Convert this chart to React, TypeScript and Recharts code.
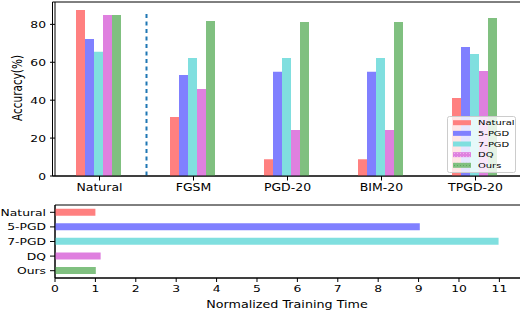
import React from 'react';
import { BarChart, Bar, XAxis, YAxis, ReferenceLine, ReferenceArea, Legend, Cell, Label } from 'recharts';

const categories = ['Natural', 'FGSM', 'PGD-20', 'BIM-20', 'TPGD-20'];
const naturalAcc = [87.6, 31.1, 8.8, 8.8, 41.2];
const pgd5Acc = [72.3, 53.3, 55.0, 55.0, 68.0];
const pgd7Acc = [65.6, 62.3, 62.3, 62.3, 64.4];
const dqAcc = [85.0, 45.9, 24.3, 24.3, 55.4];
const oursAcc = [85.0, 81.8, 81.3, 81.3, 83.4];
const accTicks = [0, 20, 40, 60, 80];

const methods = ['Natural', '5-PGD', '7-PGD', 'DQ', 'Ours'];
const trainTime = [1.0, 9.03, 10.98, 1.13, 1.01];
const timeTicks = [0, 1, 2, 3, 4, 5, 6, 7, 8, 9, 10, 11];

const COLORS = ['#ff8080', '#8080ff', '#80dfdf', '#df80df', '#80c080'];
const FONT = 'DejaVu Sans, sans-serif';
const SX = 1.3;
const ACC_MAX = 91.8;
const TIME_MAX = 11.56;

const accData = categories.map((c, i) => ({
  name: c,
  natural: naturalAcc[i],
  pgd5: pgd5Acc[i],
  pgd7: pgd7Acc[i],
  dq: dqAcc[i],
  ours: oursAcc[i],
}));
const accKeys = ['natural', 'pgd5', 'pgd7', 'dq', 'ours'];

const timeData = methods.map((m, i) => ({ name: m, time: trainTime[i] }));

const SText = ({ x, y, anchor, size, children, rotate }: any) => (
  <text
    transform={`translate(${x},${y}) scale(${SX},1)${rotate ? ' rotate(-90)' : ''}`}
    textAnchor={anchor}
    fontSize={size}
    fontFamily={FONT}
    fill="#000"
  >
    {children}
  </text>
);

const XTickTop = (p: any) => (
  <SText x={p.x} y={p.y + 10.5} anchor="middle" size={9.6}>{p.payload.value}</SText>
);
const YTick = (p: any) => (
  <SText x={p.x} y={p.y + 3.5} anchor="end" size={9.5}>{p.payload.value}</SText>
);
const XTickBottom = (p: any) => (
  <SText x={p.x} y={p.y + 10} anchor="middle" size={9.5}>{p.payload.value}</SText>
);

const LegendBox = () => (
  <svg width={70} height={58} style={{ display: 'block' }}>
    <defs>
      <pattern id="dqHatch" width="3" height="3" patternUnits="userSpaceOnUse">
        <rect width="3" height="3" fill={COLORS[3]} />
        <circle cx="1.5" cy="1.5" r="0.6" fill="#f0b8f0" />
      </pattern>
      <pattern id="oursHatch" width="3" height="3" patternUnits="userSpaceOnUse">
        <rect width="3" height="3" fill={COLORS[4]} />
        <circle cx="1.5" cy="1.5" r="0.5" fill="#5a9a5a" />
      </pattern>
    </defs>
    <rect x={0.5} y={0.5} width={68} height={56} rx={2} fill="rgba(255,255,255,0.8)" stroke="#cccccc" />
    {methods.map((m, i) => (
      <g key={m}>
        <rect
          x={6}
          y={6.7 + i * 10.65 - 2.5}
          width={18}
          height={5}
          fill={i === 3 ? 'url(#dqHatch)' : i === 4 ? 'url(#oursHatch)' : COLORS[i]}
        />
        <text
          transform={`translate(31,${6.7 + i * 10.65 + 2.6}) scale(1.38,1)`}
          fontSize={7.2}
          fontFamily={FONT}
          fill="#000"
        >
          {m}
        </text>
      </g>
    ))}
  </svg>
);

export default function App() {
  return (
    <div style={{ position: 'absolute', left: 0, top: 0, width: 520, height: 310, background: '#fff', overflow: 'hidden' }}>
      <div style={{ position: 'absolute', left: 0, top: 0 }}>
        <BarChart
          width={522}
          height={200}
          data={accData}
          margin={{ top: 2, right: 0, left: 0, bottom: 0 }}
          barCategoryGap="25%"
          barGap={0}
        >
          <XAxis
            dataKey="name"
            height={24}
            padding={{ left: -2.5, right: -0.5 }}
            tickSize={4.5}
            tickMargin={0}
            tick={XTickTop}
            axisLine={{ stroke: '#000' }}
            tickLine={{ stroke: '#000' }}
            interval={0}
          />
          <YAxis
            width={55}
            domain={[0, ACC_MAX]}
            ticks={accTicks}
            tickSize={5}
            tickMargin={4}
            tick={YTick}
            axisLine={{ stroke: '#000' }}
            tickLine={{ stroke: '#000' }}
            allowDataOverflow
          >
            <Label
              content={() => (
                <SText x={22} y={88} anchor="middle" size={10.5} rotate>
                  Accuracy(%)
                </SText>
              )}
            />
          </YAxis>
          {accKeys.map((k, i) => (
            <Bar key={k} dataKey={k} fill={COLORS[i]} isAnimationActive={false} />
          ))}
          <ReferenceArea y1={0} y2={ACC_MAX} fill="none" fillOpacity={0} stroke="#000" strokeOpacity={1} ifOverflow="visible" />
          <ReferenceLine
            segment={[{ x: 'Natural', y: 85.5 }, { x: 'Natural', y: 0 }]}
            position="end"
            stroke="#1f77b4"
            strokeWidth={2}
            strokeDasharray="4 3.5"
          />
          <Legend
            layout="horizontal"
            verticalAlign="middle"
            align="center"
            content={() => <LegendBox />}
            wrapperStyle={{ position: 'absolute', left: 447, top: 115.5, width: 70, height: 58 }}
          />
        </BarChart>
      </div>
      <div style={{ position: 'absolute', left: 0, top: 0 }}>
        <BarChart
          width={522}
          height={310}
          data={timeData}
          layout="vertical"
          margin={{ top: 205, right: 0, left: 0, bottom: 0 }}
          barCategoryGap="25%"
        >
          <XAxis
            type="number"
            domain={[0, TIME_MAX]}
            ticks={timeTicks}
            height={32}
            tickSize={4}
            tickMargin={0}
            tick={XTickBottom}
            axisLine={{ stroke: '#000' }}
            tickLine={{ stroke: '#000' }}
            allowDataOverflow
          >
            <Label
              content={() => (
                <SText x={287} y={307.5} anchor="middle" size={9.8}>
                  Normalized Training Time
                </SText>
              )}
            />
          </XAxis>
          <YAxis
            type="category"
            dataKey="name"
            width={55}
            tickSize={5}
            tickMargin={4}
            tick={YTick}
            axisLine={{ stroke: '#000' }}
            tickLine={{ stroke: '#000' }}
            interval={0}
          />
          <Bar dataKey="time" isAnimationActive={false}>
            {timeData.map((d, i) => (
              <Cell key={d.name} fill={COLORS[i]} />
            ))}
          </Bar>
          <ReferenceArea x1={0} x2={TIME_MAX} fill="none" fillOpacity={0} stroke="#000" strokeOpacity={1} ifOverflow="visible" />
        </BarChart>
      </div>
    </div>
  );
}
